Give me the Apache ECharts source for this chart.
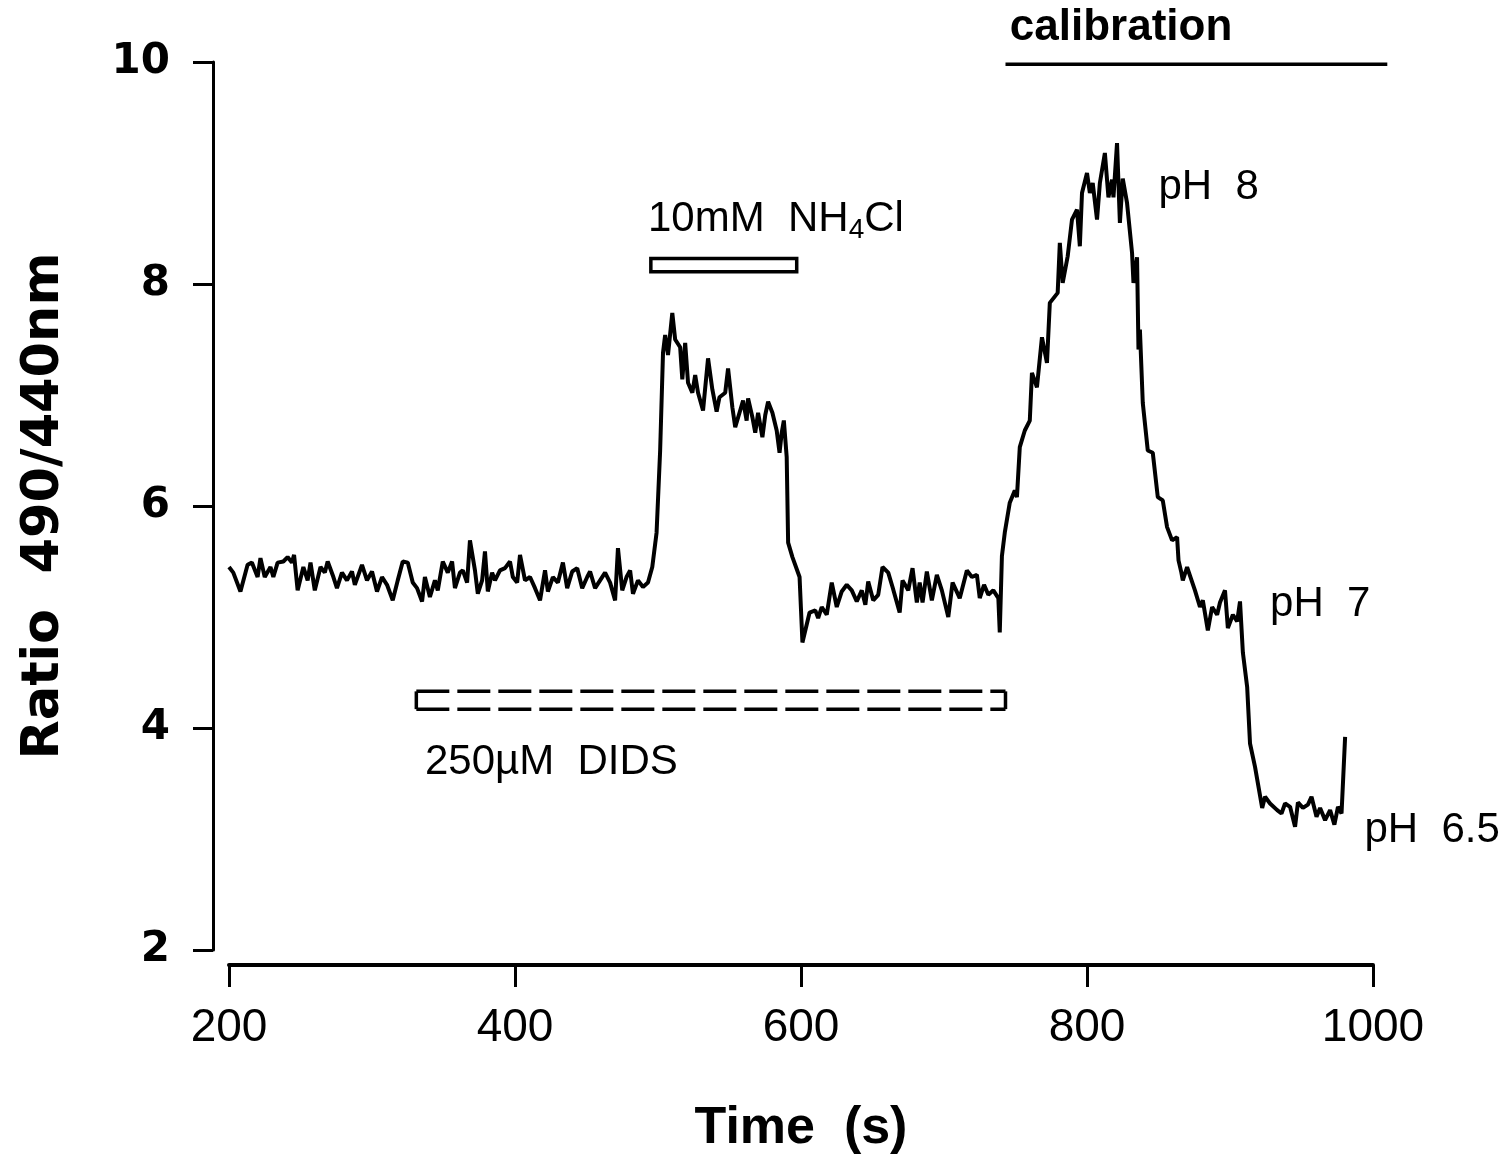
<!DOCTYPE html>
<html>
<head>
<meta charset="utf-8">
<title>Ratio 490/440nm</title>
<script src="https://cdn.jsdelivr.net/npm/echarts@6/dist/echarts.min.js"></script>
<style>
html, body { margin: 0; padding: 0; background: #fff; }
#chart { width: 1512px; height: 1155px; }
</style>
</head>
<body>
<div id="chart"></div>
<script>
// trace: time (s) and 490/440 ratio
var timeS = [
  200, 203, 208, 213, 216, 220, 222, 225, 229, 231, 234, 238, 241, 244, 245.5, 248, 252, 255, 257, 260,
  264, 267, 269, 273, 275.5, 279, 282.5, 286, 288, 293, 296.5, 300, 303.5, 307, 310.5, 314.5, 318, 321.5, 325, 328.5,
  331.5, 335, 337, 340.5, 344, 346, 349.5, 353, 356, 358, 361.5, 363.5, 366.5, 368.5, 372, 374, 377, 379, 381, 384,
  386, 389.5, 393, 396.5, 398.5, 401.5, 403.5, 407, 410.5, 414, 417.5, 421, 423, 426.5, 430, 433.5, 436.5, 440, 443.5, 447,
  450.5, 452.5, 456, 459.5, 463, 466.5, 470, 472, 475, 478, 480.5, 482.5, 486, 489.5, 493, 496, 499, 501.5, 503.5, 505,
  507, 510, 512, 515.5, 517, 519, 521, 524, 526, 528, 531.5, 535, 538, 541, 543, 547, 549, 552, 554, 557,
  559.5, 562, 563, 566, 568, 570, 573, 575, 577, 580, 583, 585, 586.5, 588, 590, 591, 594, 599, 601, 606,
  610, 612, 614.5, 618, 621.5, 625, 628.5, 632, 635.5, 639, 642.5, 645, 647, 650.5, 654, 657, 661, 664, 669, 671,
  675, 678, 681, 683, 685, 688, 691.5, 695, 698.5, 703, 706, 711, 716, 719.5, 723, 725, 728, 731, 734.5, 738,
  739, 740.5, 742.5, 746, 749.5, 751, 753, 756.5, 760, 761.5, 765, 768.5, 772, 774, 779.5, 781, 783, 786.5, 789.5, 793,
  795, 796.5, 800, 802, 804, 807, 809, 812.5, 815, 817.5, 818.5, 821, 823, 825, 828, 831.5, 832.5, 835, 836, 837,
  839, 842.5, 846, 849.5, 853, 856, 859.5, 863, 864, 866, 867, 870, 875.5, 879, 881, 884.5, 887.5, 891, 893, 896.5,
  898.5, 902, 905, 907, 909, 912, 914, 917.5, 922.5, 924.5, 928, 933, 936, 938.5, 942, 945.5, 947.5, 951, 954.5, 957,
  960.5, 963, 966.5, 970, 973, 975.5, 978, 980.5
];
var ratio = [
  5.45, 5.40, 5.23, 5.47, 5.49, 5.36, 5.53, 5.36, 5.45, 5.36, 5.49, 5.50, 5.54, 5.49, 5.56, 5.24, 5.45, 5.33, 5.49, 5.24,
  5.45, 5.40, 5.50, 5.36, 5.26, 5.40, 5.33, 5.41, 5.29, 5.47, 5.33, 5.41, 5.23, 5.36, 5.29, 5.15, 5.33, 5.50, 5.49, 5.31,
  5.26, 5.14, 5.36, 5.18, 5.33, 5.24, 5.50, 5.40, 5.50, 5.26, 5.40, 5.42, 5.31, 5.69, 5.42, 5.21, 5.33, 5.59, 5.23, 5.40,
  5.33, 5.42, 5.44, 5.50, 5.36, 5.31, 5.56, 5.33, 5.36, 5.26, 5.15, 5.42, 5.23, 5.36, 5.31, 5.49, 5.26, 5.41, 5.44, 5.26,
  5.36, 5.41, 5.26, 5.33, 5.40, 5.31, 5.15, 5.62, 5.24, 5.36, 5.42, 5.21, 5.33, 5.27, 5.31, 5.45, 5.76, 6.50, 7.38, 7.54,
  7.36, 7.74, 7.50, 7.43, 7.14, 7.47, 7.11, 7.02, 7.18, 7.02, 6.86, 7.33, 7.05, 6.85, 6.98, 7.02, 7.24, 6.89, 6.71, 6.84,
  6.95, 6.77, 6.97, 6.80, 6.66, 6.84, 6.62, 6.82, 6.94, 6.84, 6.68, 6.48, 6.66, 6.77, 6.44, 5.67, 5.54, 5.36, 4.77, 5.04,
  5.06, 4.99, 5.09, 5.02, 5.31, 5.09, 5.23, 5.29, 5.24, 5.14, 5.24, 5.11, 5.32, 5.15, 5.20, 5.45, 5.40, 5.27, 5.04, 5.33,
  5.24, 5.44, 5.13, 5.31, 5.13, 5.41, 5.15, 5.38, 5.24, 5.00, 5.31, 5.17, 5.42, 5.36, 5.38, 5.17, 5.29, 5.20, 5.24, 5.17,
  4.86, 5.55, 5.76, 6.03, 6.14, 6.08, 6.53, 6.68, 6.77, 7.20, 7.07, 7.52, 7.29, 7.83, 7.92, 8.37, 8.01, 8.25, 8.58, 8.67,
  8.34, 8.82, 9.00, 8.82, 8.91, 8.58, 8.91, 9.18, 8.78, 8.94, 8.78, 9.27, 8.55, 8.95, 8.73, 8.28, 8.01, 8.24, 7.41, 7.59,
  6.93, 6.50, 6.48, 6.08, 6.05, 5.81, 5.69, 5.72, 5.51, 5.40, 5.33, 5.45, 5.24, 5.09, 5.15, 4.88, 5.09, 5.02, 5.13, 5.24,
  4.90, 5.02, 4.96, 5.14, 4.68, 4.37, 3.86, 3.65, 3.28, 3.38, 3.32, 3.26, 3.23, 3.32, 3.29, 3.11, 3.33, 3.28, 3.31, 3.38,
  3.20, 3.28, 3.17, 3.26, 3.13, 3.29, 3.23, 3.92
];

var xMin = 200, xMax = 1000, xStep = 200;
var yMin = 2, yMax = 10, yStep = 2;

// treatment bars: [start time, end time, low ratio, high ratio]
var nh4clBar = [495, 597, 8.11, 8.23];
var didsBar = [331, 743, 4.17, 4.33];
// calibration line: [start time, end time, ratio]
var calibLine = [743, 1010, 9.98];

var labelText = ['calibration', '{n|10mM  NH}{s|4}{n|Cl}', 'pH  8', 'pH  7', 'pH  6.5', '250µM  DIDS'];
var labelTime = [746, 493, 850, 928, 994, 337];
var labelRatio = [10.31, 8.58, 8.87, 5.11, 3.08, 3.69];

var trace = timeS.map(function (t, i) { return [t, ratio[i]]; });
var labelData = labelTime.map(function (t, i) { return [t, labelRatio[i]]; });

var chart = echarts.init(document.getElementById('chart'));

function renderBox(params, api) {
  var p0 = api.coord([api.value(0), api.value(3)]);
  var p1 = api.coord([api.value(1), api.value(2)]);
  return {
    type: 'rect',
    shape: { x: p0[0], y: p0[1], width: p1[0] - p0[0], height: p1[1] - p0[1] },
    style: { fill: '#fff', stroke: '#000', lineWidth: 3.5 }
  };
}

function renderDashedBox(params, api) {
  var p0 = api.coord([api.value(0), api.value(3)]);
  var p1 = api.coord([api.value(1), api.value(2)]);
  var dashed = { stroke: '#000', lineWidth: 3.5, lineDash: [33, 8], fill: null };
  var solid = { stroke: '#000', lineWidth: 3.5, fill: null };
  return {
    type: 'group',
    children: [
      { type: 'line', shape: { x1: p0[0], y1: p0[1], x2: p1[0], y2: p0[1] }, style: dashed },
      { type: 'line', shape: { x1: p0[0], y1: p1[1], x2: p1[0], y2: p1[1] }, style: dashed },
      { type: 'line', shape: { x1: p0[0], y1: p0[1], x2: p0[0], y2: p1[1] }, style: solid },
      { type: 'line', shape: { x1: p1[0], y1: p0[1], x2: p1[0], y2: p1[1] }, style: solid }
    ]
  };
}

function renderLine(params, api) {
  var p0 = api.coord([api.value(0), api.value(2)]);
  var p1 = api.coord([api.value(1), api.value(2)]);
  return {
    type: 'line',
    shape: { x1: p0[0], y1: p0[1], x2: p1[0], y2: p1[1] },
    style: { stroke: '#000', lineWidth: 3.5 }
  };
}

function renderLabel(params, api) {
  var p = api.coord([api.value(0), api.value(1)]);
  var i = params.dataIndex;
  return {
    type: 'text',
    x: p[0],
    y: p[1],
    style: {
      text: labelText[i],
      fill: '#000',
      fontFamily: 'Liberation Sans',
      fontSize: i === 0 ? 44 : 42,
      fontWeight: i === 0 ? 'bold' : 'normal',
      align: 'left',
      verticalAlign: 'middle',
      rich: {
        n: { fontSize: 42, lineHeight: 50, fontFamily: 'Liberation Sans' },
        s: { fontSize: 28, lineHeight: 30, verticalAlign: 'bottom', fontFamily: 'Liberation Sans' }
      }
    }
  };
}

chart.setOption({
  animation: false,
  backgroundColor: '#fff',
  grid: {
    left: 229,
    right: 139,
    top: 62,
    bottom: 205,
    outerBoundsMode: 'none'
  },
  xAxis: {
    type: 'value',
    min: xMin,
    max: xMax,
    interval: xStep,
    offset: 15,
    name: 'Time  (s)',
    nameLocation: 'middle',
    nameGap: 138,
    nameTextStyle: { color: '#000', fontSize: 52, fontFamily: 'Liberation Sans', fontWeight: 'bold' },
    axisLine: { lineStyle: { color: '#000', width: 4 } },
    axisTick: { length: 22, lineStyle: { color: '#000', width: 3 } },
    axisLabel: {
      color: '#000', fontSize: 46, fontFamily: 'Liberation Sans', margin: 40,
      formatter: function (v) { return String(v); }
    },
    splitLine: { show: false }
  },
  yAxis: {
    type: 'value',
    min: yMin,
    max: yMax,
    interval: yStep,
    offset: 16,
    name: 'Ratio  490/440nm',
    nameLocation: 'middle',
    nameGap: 143,
    nameRotate: 90,
    nameTextStyle: { color: '#000', fontSize: 51, fontFamily: 'DejaVu Sans', fontWeight: 'bold' },
    axisLine: { lineStyle: { color: '#000', width: 3 } },
    axisTick: { length: 20, lineStyle: { color: '#000', width: 3 } },
    axisLabel: { color: '#000', fontSize: 42, fontFamily: 'DejaVu Sans', fontWeight: 'bold', margin: 43 },
    splitLine: { show: false }
  },
  series: [
    {
      name: 'ratio',
      type: 'line',
      data: trace,
      showSymbol: false,
      clip: false,
      lineStyle: { color: '#000', width: 4 },
      z: 3
    },
    {
      type: 'custom',
      renderItem: renderBox,
      data: [nh4clBar],
      encode: { x: [0, 1], y: [2, 3] },
      clip: false,
      silent: true
    },
    {
      type: 'custom',
      renderItem: renderDashedBox,
      data: [didsBar],
      encode: { x: [0, 1], y: [2, 3] },
      clip: false,
      silent: true
    },
    {
      type: 'custom',
      renderItem: renderLine,
      data: [calibLine],
      encode: { x: [0, 1], y: 2 },
      clip: false,
      silent: true
    },
    {
      type: 'custom',
      renderItem: renderLabel,
      data: labelData,
      encode: { x: 0, y: 1 },
      clip: false,
      silent: true
    }
  ]
});
</script>
</body>
</html>
